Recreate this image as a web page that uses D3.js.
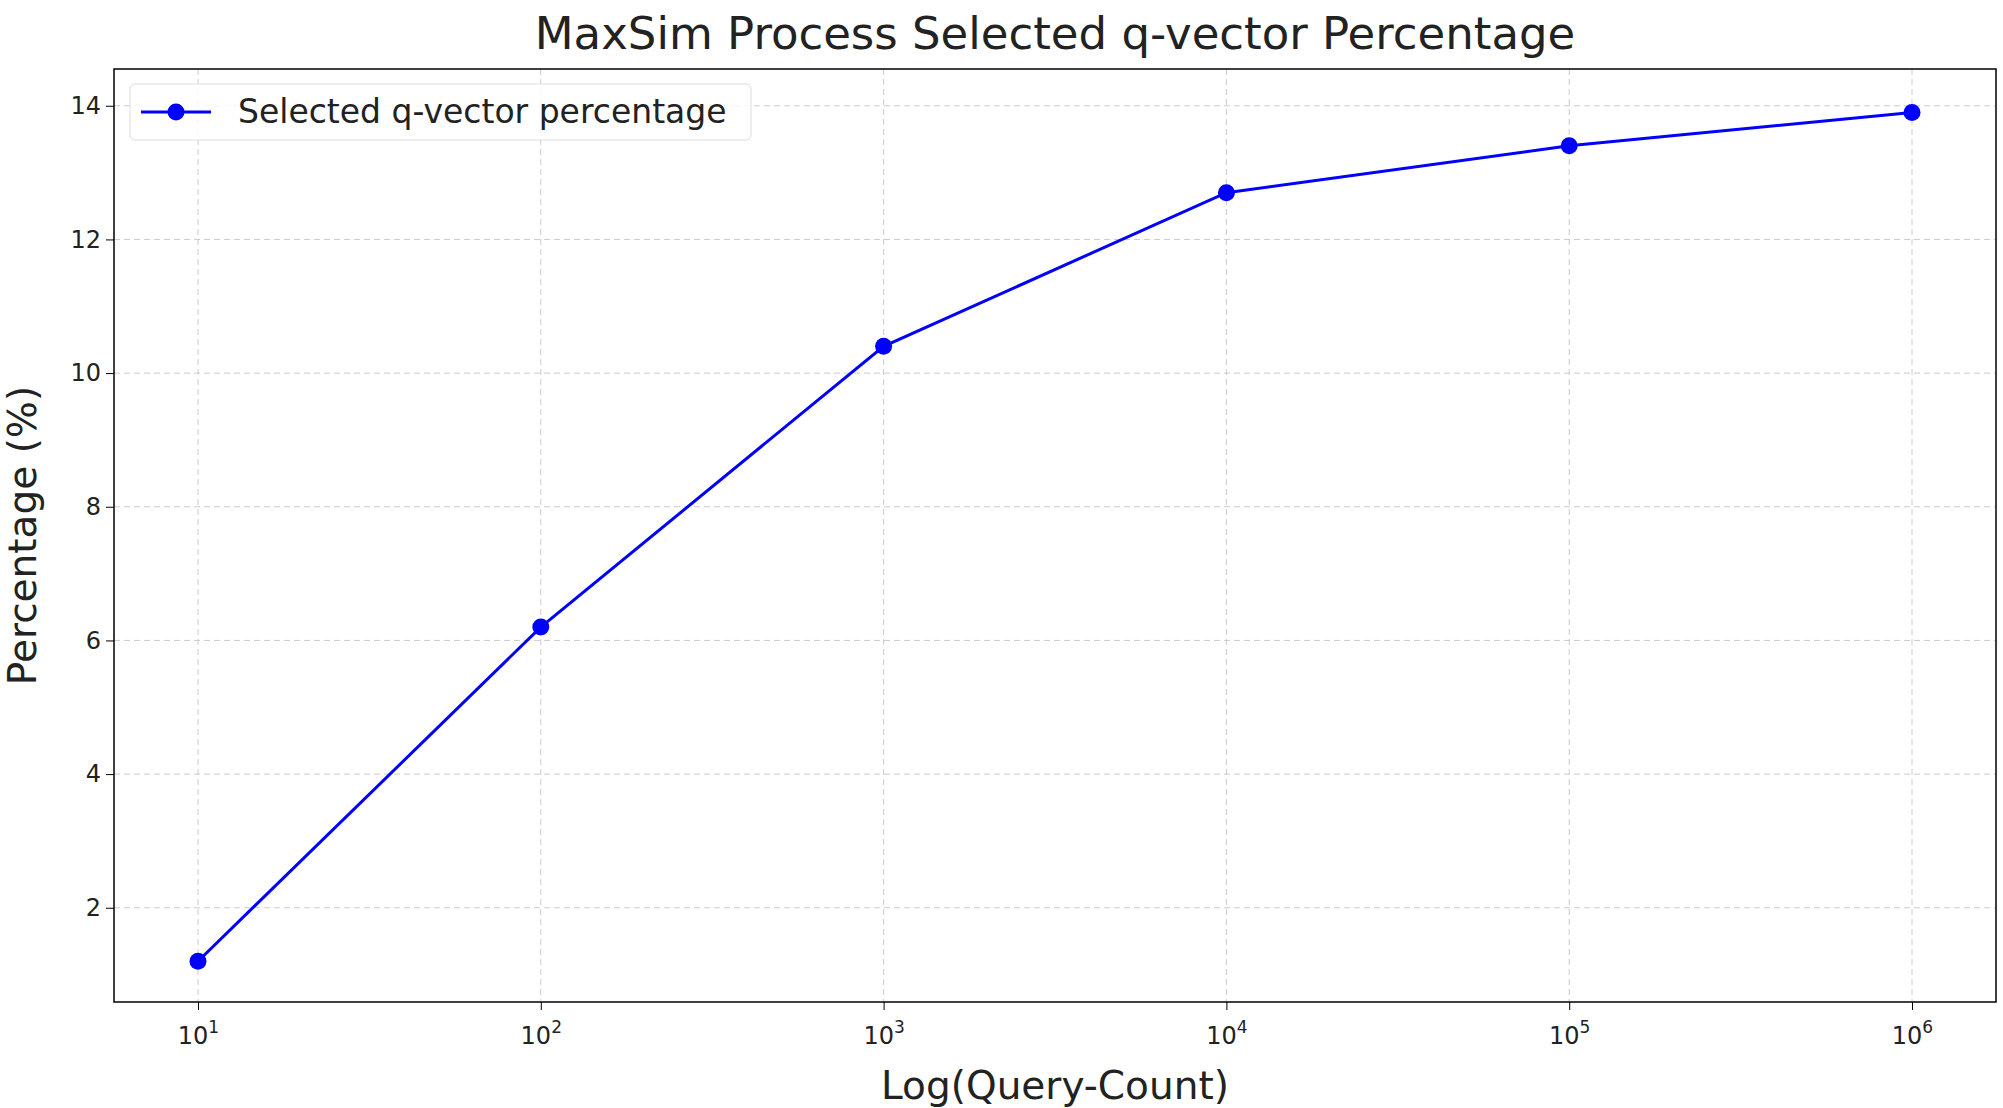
<!DOCTYPE html>
<html><head><meta charset="utf-8">
<script src="https://cdn.jsdelivr.net/npm/d3@7"></script>
<style>body{margin:0;background:#fff}text{font-family:"DejaVu Sans",sans-serif;fill:#222}</style>
</head><body><div class="canvas"></div>
<script>
const queryCounts = [1e1, 1e2, 1e3, 1e4, 1e5, 1e6];
const percentages = [1.2, 6.2, 10.4, 12.7, 13.4, 13.9];
const yTicks = [2, 4, 6, 8, 10, 12, 14];
const exponents = [1, 2, 3, 4, 5, 6];

const W = 2003, H = 1108;
const m = { left: 114, right: 7, top: 69, bottom: 106 };
const iw = W - m.left - m.right, ih = H - m.top - m.bottom;

const svg = d3.select('.canvas').append('svg').attr('width', W).attr('height', H);
const g = svg.append('g').attr('transform', `translate(${m.left},${m.top})`);

const x = d3.scaleLog().domain([Math.pow(10, 0.755), Math.pow(10, 6.245)]).range([0, iw]);
const y = d3.scaleLinear().domain([0.59, 14.55]).range([ih, 0]);

// grid
g.selectAll('.gx').data(queryCounts).enter().append('line')
  .attr('x1', d => x(d)).attr('x2', d => x(d)).attr('y1', 0).attr('y2', ih)
  .attr('stroke', '#ccc').attr('stroke-dasharray', '6,4').attr('stroke-width', 1);
g.selectAll('.gy').data(yTicks).enter().append('line')
  .attr('y1', d => y(d)).attr('y2', d => y(d)).attr('x1', 0).attr('x2', iw)
  .attr('stroke', '#ccc').attr('stroke-dasharray', '6,4').attr('stroke-width', 1);

// axes
const xAxis = g.append('g').attr('transform', `translate(0,${ih})`)
  .call(d3.axisBottom(x).tickValues(queryCounts).tickSize(8).tickFormat(''));
xAxis.selectAll('.tick').each(function(d, i) {
  const t = d3.select(this).append('text').attr('y', 42).attr('text-anchor', 'middle')
    .style('font-size', '24px');
  t.append('tspan').text('10');
  t.append('tspan').attr('dy', -11).style('font-size', '17px').text(exponents[i]);
});
const yAxis = g.append('g').call(d3.axisLeft(y).tickValues(yTicks).tickSize(8));
yAxis.selectAll('text').style('font-size', '24px').attr('fill', '#222').attr('x', -13);
g.selectAll('.domain').remove();
g.append('rect').attr('width', iw).attr('height', ih).attr('fill', 'none').attr('stroke', '#000').attr('stroke-width', 1.5);

// line
const pts = queryCounts.map((q, i) => ({ q, p: percentages[i] }));
g.append('path').datum(pts)
  .attr('d', d3.line().x(d => x(d.q)).y(d => y(d.p)))
  .attr('fill', 'none').attr('stroke', '#0000ff').attr('stroke-width', 3);
g.selectAll('.pt').data(pts).enter().append('circle')
  .attr('cx', d => x(d.q)).attr('cy', d => y(d.p)).attr('r', 8.5).attr('fill', '#0000ff');

// legend
const lg = svg.append('g').attr('transform', 'translate(130,84)');
lg.append('rect').attr('width', 621).attr('height', 56).attr('rx', 5)
  .attr('fill', '#fff').attr('fill-opacity', 0.8).attr('stroke', '#ddd');
lg.append('line').attr('x1', 11).attr('x2', 81).attr('y1', 28).attr('y2', 28).attr('stroke', '#0000ff').attr('stroke-width', 3);
lg.append('circle').attr('cx', 46).attr('cy', 28).attr('r', 8.5).attr('fill', '#0000ff');
lg.append('text').attr('x', 108).attr('y', 39).style('font-size', '33px').text('Selected q-vector percentage');

// titles
svg.append('text').attr('x', m.left + iw / 2).attr('y', 49).attr('text-anchor', 'middle')
  .style('font-size', '45px').text('MaxSim Process Selected q-vector Percentage');
svg.append('text').attr('x', m.left + iw / 2).attr('y', 1099).attr('text-anchor', 'middle')
  .style('font-size', '39px').text('Log(Query-Count)');
svg.append('text').attr('transform', `translate(36,${m.top + ih / 2}) rotate(-90)`).attr('text-anchor', 'middle')
  .style('font-size', '39px').text('Percentage (%)');
</script></body></html>
